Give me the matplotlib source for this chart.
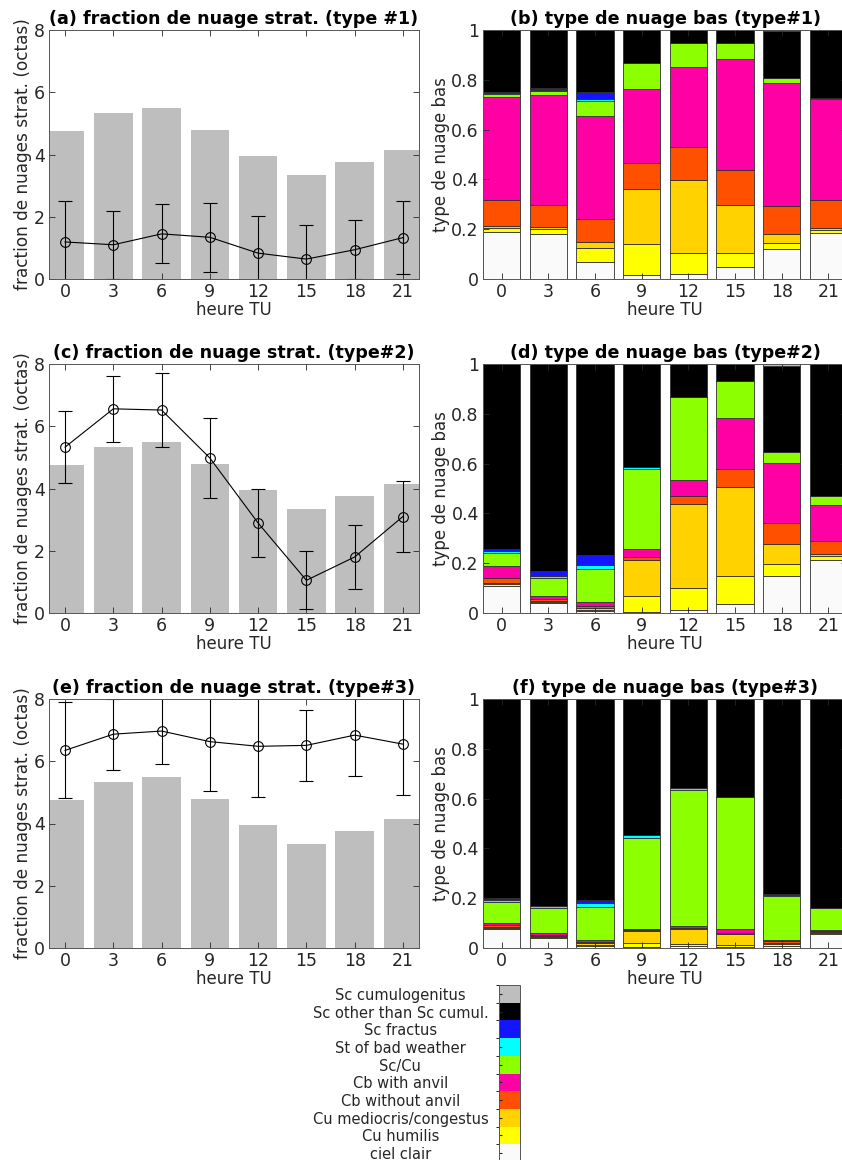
import numpy as np
import matplotlib
matplotlib.use('Agg')
import matplotlib.pyplot as plt
from matplotlib.colors import ListedColormap, BoundaryNorm
import matplotlib.colorbar as mcolorbar

plt.rcParams['font.family'] = ['DejaVu Sans']
plt.rcParams['font.size'] = 12

heures = [0, 3, 6, 9, 12, 15, 18, 21]

# fraction moyenne (barres grises, identique sur les 3 panneaux)
frac_moy = [4.77, 5.33, 5.48, 4.79, 3.94, 3.34, 3.76, 4.15]

# fraction de nuages strat. par type : moyenne et ecart-type
frac_t1 = [1.19, 1.10, 1.45, 1.34, 0.83, 0.64, 0.94, 1.33]
std_t1 = [1.30, 1.09, 0.95, 1.11, 1.18, 1.08, 0.95, 1.16]
frac_t2 = [5.33, 6.56, 6.52, 4.98, 2.89, 1.05, 1.80, 3.10]
std_t2 = [1.15, 1.07, 1.18, 1.30, 1.08, 0.93, 1.04, 1.15]
frac_t3 = [6.35, 6.87, 6.97, 6.63, 6.48, 6.51, 6.84, 6.55]
std_t3 = [1.54, 1.14, 1.06, 1.60, 1.64, 1.13, 1.32, 1.62]

# types de nuage bas (du bas vers le haut)
categories = ['ciel clair', 'Cu humilis', 'Cu mediocris/congestus',
              'Cb without anvil', 'Cb with anvil', 'Sc/Cu',
              'St of bad weather', 'Sc fractus', 'Sc other than Sc cumul.',
              'Sc cumulogenitus']
couleurs = ['#fafafa', '#ffff00', '#ffd200', '#ff5000', '#ff00a5',
            '#8cff00', '#00ffff', '#1414ff', '#000000', '#bebebe']

# fractions par categorie (lignes) et par heure (colonnes)
nuage_t1 = [
    [.188, .180, .068, .016, .020, .048, .121, .184],
    [.015, .020, .056, .125, .084, .056, .023, .013],
    [.008, .007, .024, .219, .293, .192, .036, .007],
    [.105, .089, .092, .105, .134, .143, .113, .113],
    [.416, .444, .415, .300, .320, .445, .496, .404],
    [.011, .017, .058, .104, .096, .063, .018, .007],
    [.004, .004, .008, 0, 0, 0, 0, 0],
    [.002, .005, .028, 0, 0, 0, 0, 0],
    [.251, .234, .251, .131, .053, .053, .188, .272],
    [0, 0, 0, 0, 0, 0, .005, 0],
]
nuage_t2 = [
    [.108, .040, .008, .004, .011, .037, .147, .211],
    [.007, .003, .005, .063, .090, .110, .048, .016],
    [.006, .004, .008, .144, .335, .361, .082, .010],
    [.019, .008, .007, .013, .035, .071, .086, .054],
    [.048, .012, .016, .033, .065, .205, .238, .144],
    [.053, .073, .133, .322, .332, .147, .047, .033],
    [.006, .008, .016, .008, 0, 0, 0, 0],
    [.009, .019, .038, 0, 0, 0, 0, 0],
    [.744, .833, .769, .413, .132, .069, .343, .532],
    [0, 0, 0, 0, 0, 0, .009, 0],
]
nuage_t3 = [
    [.075, .040, .008, .004, .007, .004, .008, .055],
    [.005, .004, .005, .016, .009, .009, .008, .005],
    [.005, .004, .008, .048, .061, .043, .005, .004],
    [.006, .005, .003, .005, .004, .005, .006, .004],
    [.010, .008, .009, .003, .008, .014, .004, .003],
    [.083, .098, .130, .364, .544, .530, .176, .090],
    [.008, .008, .017, .013, .008, 0, .005, 0],
    [.008, .002, .011, 0, 0, 0, .005, 0],
    [.800, .831, .809, .547, .359, .395, .783, .839],
    [0, 0, 0, 0, 0, 0, 0, 0],
]

W, H = 842, 1160
fig = plt.figure(figsize=(W / 100, H / 100), dpi=100)
gris = '#262626'


def px_axes(x0, top, w, h):
    return fig.add_axes([x0 / W, 1 - (top + h) / H, w / W, h / H])


def style(ax):
    ax.tick_params(direction='in', top=True, right=True, length=4,
                   colors=gris, labelsize=12.5, width=0.6, pad=3)
    for s in ax.spines.values():
        s.set_color('#555555')
        s.set_linewidth(0.7)
    ax.set_xticks(heures)
    ax.set_xlabel('heure TU', color=gris, labelpad=0, fontsize=12)


tops = [30, 364, 699]
lettres_g = ['(a) fraction de nuage strat. (type #1)',
             '(c) fraction de nuage strat. (type#2)',
             '(e) fraction de nuage strat. (type#3)']
lettres_d = ['(b) type de nuage bas (type#1)',
             '(d) type de nuage bas (type#2)',
             '(f) type de nuage bas (type#3)']
fracs = [frac_t1, frac_t2, frac_t3]
stds = [std_t1, std_t2, std_t3]
nuages = [nuage_t1, nuage_t2, nuage_t3]

for i in range(3):
    # panneau gauche
    ax = px_axes(49, tops[i], 370, 249)
    ax.bar(heures, frac_moy, width=2.4, color='#bebebe')
    ax.errorbar(heures, fracs[i], yerr=stds[i], color='k', lw=0.8,
                marker='o', ms=7, mfc='none', mec='k', mew=0.8,
                capsize=5, elinewidth=0.8, capthick=0.8)
    ax.set_xlim(-1, 22)
    ax.set_ylim(0, 8)
    ax.set_yticks([0, 2, 4, 6, 8])
    style(ax)
    ax.set_ylabel('fraction de nuages strat. (octas)', color=gris,
                  labelpad=1, fontsize=12.2)
    ax.set_title(lettres_g[i], fontweight='bold', pad=4, fontsize=12.6)

    # panneau droit : barres empilees
    ax2 = px_axes(483, tops[i], 364, 249)
    bas = np.zeros(len(heures))
    for k in range(len(categories)):
        vals = np.array(nuages[i][k])
        ax2.bar(heures, vals, bottom=bas, width=2.4, color=couleurs[k],
                edgecolor='#303030', linewidth=0.6)
        bas = bas + vals
    ax2.set_xlim(-1.2, 22.2)
    ax2.set_ylim(0, 1)
    ax2.set_yticks([0, 0.2, 0.4, 0.6, 0.8, 1])
    ax2.set_yticklabels(['0', '0.2', '0.4', '0.6', '0.8', '1'])
    style(ax2)
    ax2.set_ylabel('type de nuage bas', color=gris, labelpad=1, fontsize=12)
    ax2.set_title(lettres_d[i], fontweight='bold', pad=4, fontsize=12.6)

# barre de couleurs (legende)
cax = px_axes(499, 985, 21, 177)
cmap = ListedColormap(couleurs)
norm = BoundaryNorm(np.arange(len(couleurs) + 1), cmap.N)
cb = mcolorbar.ColorbarBase(cax, cmap=cmap, norm=norm, orientation='vertical')
cb.set_ticks(np.arange(len(couleurs)) + 0.5)
cb.set_ticklabels(categories)
cax.yaxis.set_ticks_position('left')
cax.tick_params(direction='in', length=2, pad=71, colors=gris, labelsize=10.5)
for lab in cax.get_yticklabels():
    lab.set_horizontalalignment('center')
cb.outline.set_edgecolor('#555555')
cb.outline.set_linewidth(0.7)

fig.savefig('out.png', dpi=100)
